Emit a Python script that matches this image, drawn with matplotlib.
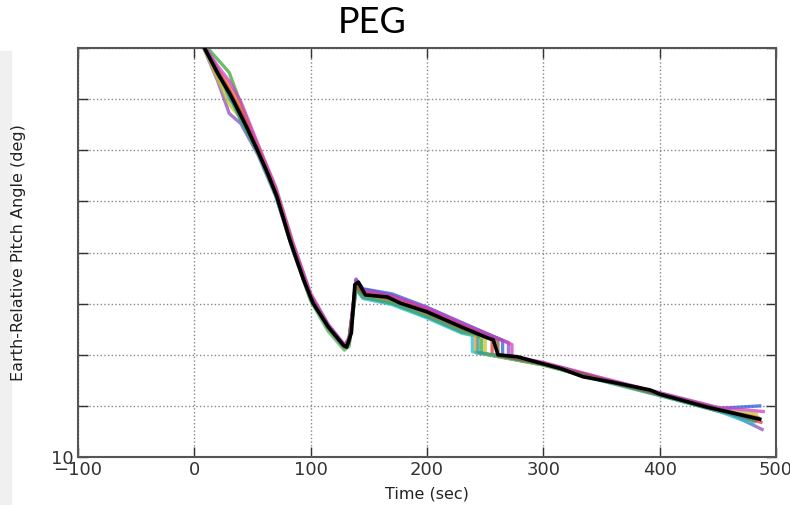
import matplotlib
matplotlib.use("Agg")
import matplotlib.pyplot as plt
from matplotlib.patches import Rectangle

# reference (black) trajectory
black_t = [0, 8, 20, 31, 34, 45, 54, 63, 71, 82, 94, 102, 115, 128, 131, 135, 138, 141,
           147, 166, 177, 200, 230, 252, 257, 261, 278, 297, 315, 334, 360, 392, 400, 440, 486]
black_v = [93.0, 90.3, 85.1, 80.8, 79.5, 74.5, 70.1, 65.5, 60.9, 52.5, 44.6, 40.1, 35.5, 31.9,
           31.5, 34.3, 43.7, 44.2, 41.7, 41.3, 40.1, 38.4, 35.4, 33.3, 32.9, 30.0, 29.6, 28.4,
           27.3, 25.7, 24.6, 23.1, 22.3, 19.8, 17.4]

# dispersed runs: shared early time grid, own drop time, shared late grid, own end point
early_t = [8, 20, 30, 40, 55, 70, 85, 100, 115, 129, 133, 139, 145, 170, 200, 230]
run_early = [
    [90.8, 87.8, 85.2, 79.0, 70.5, 62.3, 51.5, 41.8, 35.8, 31.4, 33.5, 43.0, 41.5, 40.0, 37.4, 34.4],
    [90.0, 83.6, 77.2, 75.2, 69.0, 61.0, 50.2, 40.8, 35.0, 31.2, 32.0, 44.5, 42.8, 41.6, 39.0, 36.0],
    [90.5, 86.0, 80.0, 77.5, 70.2, 62.0, 51.0, 41.5, 35.8, 31.9, 32.8, 44.8, 42.9, 41.9, 39.3, 36.3],
    [90.3, 85.8, 82.5, 78.5, 70.8, 62.5, 51.3, 41.0, 35.2, 31.5, 32.2, 43.5, 41.8, 40.4, 37.8, 34.9],
    [90.2, 84.8, 80.5, 76.0, 69.2, 61.2, 50.5, 40.5, 34.6, 30.9, 31.6, 42.8, 41.0, 39.8, 37.2, 34.2],
    [90.4, 85.5, 81.8, 77.5, 70.0, 61.8, 50.8, 41.4, 35.6, 31.8, 32.6, 44.0, 42.4, 41.3, 38.7, 35.7],
    [90.1, 84.0, 79.0, 76.2, 69.5, 61.4, 50.4, 40.7, 34.8, 31.0, 31.8, 43.2, 41.3, 40.2, 37.6, 34.6],
    [90.6, 86.5, 83.5, 79.5, 71.0, 62.8, 51.8, 42.0, 36.0, 32.0, 33.0, 44.6, 42.6, 41.5, 39.2, 36.2],
    [90.2, 85.2, 81.0, 75.8, 69.3, 61.3, 50.3, 40.9, 35.1, 31.3, 32.1, 43.0, 41.2, 40.1, 37.5, 34.5],
    [90.3, 85.0, 81.5, 77.0, 69.8, 61.7, 50.7, 41.1, 35.4, 31.6, 32.4, 43.6, 42.0, 40.8, 38.2, 35.2],
]
drop_t = [247, 270, 265, 242, 239, 256, 250, 273, 244, 261]
drop_pre = [33.4, 32.4, 32.8, 34.2, 33.8, 33.0, 33.2, 32.0, 33.9, 32.6]
drop_post = [30.3, 29.8, 29.9, 30.4, 30.6, 30.1, 30.2, 29.7, 30.5, 29.9]
late_t = [300, 350, 400, 450]
run_late = [
    [28.0, 25.1, 22.2, 19.2],
    [28.4, 25.4, 22.5, 19.6],
    [28.3, 25.3, 22.4, 19.5],
    [28.1, 25.0, 22.1, 19.0],
    [28.0, 24.9, 22.0, 19.0],
    [28.3, 25.3, 22.3, 19.3],
    [28.0, 25.0, 22.1, 19.1],
    [28.5, 25.5, 22.6, 19.7],
    [28.1, 25.0, 22.1, 19.0],
    [28.2, 25.2, 22.3, 19.4],
]
end_t = [482, 488, 486, 484, 480, 487, 483, 489, 481, 485]
end_v = [17.0, 15.4, 20.0, 17.8, 16.5, 16.8, 18.4, 18.9, 17.3, 17.6]
run_colors = ["#3aa63a", "#8a4fbf", "#2b5fd9", "#f08a24", "#27c0d0",
              "#d93a3a", "#c9c22a", "#d23fc0", "#2a9d8f", "#8c5a3c"]

fig = plt.figure(figsize=(7.9, 5.05), dpi=100)
fig.patches.append(Rectangle((0, 0), 0.014, 0.9, transform=fig.transFigure,
                             color="#f0f0f0", zorder=-1))
ax = fig.add_axes([0.0987, 0.095, 0.8836, 0.810])

for i in range(len(run_early)):
    x = early_t + [drop_t[i], drop_t[i]] + late_t + [end_t[i]]
    y = run_early[i] + [drop_pre[i], drop_post[i]] + run_late[i] + [end_v[i]]
    ax.plot(x, y, color=run_colors[i], lw=2.4, alpha=0.75, solid_joinstyle="round")

ax.plot(black_t, black_v, color="black", lw=2.6, zorder=5, solid_joinstyle="round")

ax.set_xlim(-100, 500)
ax.set_ylim(10, 90)
ax.set_xticks([-100, 0, 100, 200, 300, 400, 500])
ax.set_xticklabels(["\u2212100", "0", "100", "200", "300", "400", "500"])
ax.set_yticks([10, 20, 30, 40, 50, 60, 70, 80, 90])
ax.set_yticklabels(["10", "", "", "", "", "", "", "", ""])
ax.tick_params(direction="in", length=7, width=1, top=True, right=True,
               labelsize=13, colors="#333333", pad=3)
ax.grid(True, linestyle=":", color="#888888", lw=1)
for s in ax.spines.values():
    s.set_color("#555555")
    s.set_linewidth(1.5)

ax.set_xlabel("Time (sec)", fontsize=11.5, labelpad=5, color="#222222")
ax.set_ylabel("Earth-Relative Pitch Angle (deg)", fontsize=11.5, labelpad=18, color="#222222")
fig.text(0.471, 0.955, "PEG", ha="center", va="center", fontsize=26,
         family="Lato")

fig.savefig("out.png", dpi=100)
